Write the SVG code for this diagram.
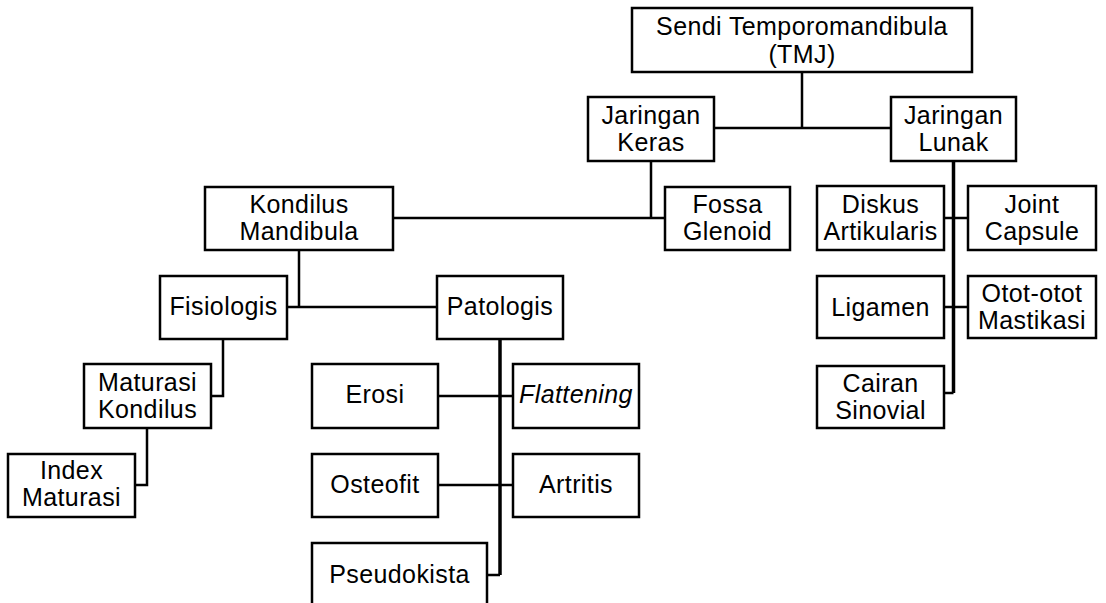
<svg xmlns="http://www.w3.org/2000/svg" width="1106" height="603" viewBox="0 0 1106 603">
<style>
rect{fill:#fff;stroke:#000;stroke-width:2.5}
text{font-family:"Liberation Sans",Arial,sans-serif;font-size:25px;letter-spacing:0.4px;text-anchor:middle;fill:#000}
.c{fill:none;stroke:#000;stroke-width:2.5}
.t{fill:none;stroke:#000;stroke-width:3.5}
.i{font-style:italic}
</style>
<rect x="0" y="0" width="1106" height="603" style="stroke:none"/>
<g id="connectors">
<path class="c" d="M802,72V128M714,128H891"/>
<path class="c" d="M651,161V218M393,218H665"/>
<path class="t" d="M953.5,161V393"/>
<path class="c" d="M953.5,393H944M944,218H968M944,307H968"/>
<path class="c" d="M299,250V307M287,307H437"/>
<path class="c" d="M223,339V396H211"/>
<path class="c" d="M147,428V485H135"/>
<path class="t" d="M500,339V575"/>
<path class="c" d="M500,575H487M438,396H513M438,485H513"/>
</g>
<g id="tmj"><rect x="632" y="8" width="340" height="64"/><text x="802" y="35">Sendi Temporomandibula</text><text x="802" y="63">(TMJ)</text></g>
<g id="keras"><rect x="588" y="97" width="126" height="64"/><text x="651" y="124">Jaringan</text><text x="651" y="151">Keras</text></g>
<g id="lunak"><rect x="891" y="97" width="125" height="64"/><text x="953.5" y="124">Jaringan</text><text x="953.5" y="151">Lunak</text></g>
<g id="kondilus"><rect x="205" y="187" width="188" height="63"/><text x="299" y="213">Kondilus</text><text x="299" y="240">Mandibula</text></g>
<g id="fossa"><rect x="665" y="187" width="125" height="63"/><text x="727.5" y="213">Fossa</text><text x="727.5" y="240">Glenoid</text></g>
<g id="diskus"><rect x="817" y="186" width="127" height="64"/><text x="880.5" y="213">Diskus</text><text x="880.5" y="240">Artikularis</text></g>
<g id="joint"><rect x="968" y="186" width="128" height="64"/><text x="1032" y="213">Joint</text><text x="1032" y="240">Capsule</text></g>
<g id="ligamen"><rect x="817" y="276" width="127" height="62"/><text x="880.5" y="316">Ligamen</text></g>
<g id="otot"><rect x="968" y="276" width="128" height="62"/><text x="1032" y="302">Otot-otot</text><text x="1032" y="329">Mastikasi</text></g>
<g id="cairan"><rect x="817" y="366" width="127" height="62"/><text x="880.5" y="392">Cairan</text><text x="880.5" y="419">Sinovial</text></g>
<g id="fisiologis"><rect x="160" y="276" width="127" height="63"/><text x="223.5" y="315">Fisiologis</text></g>
<g id="patologis"><rect x="437" y="276" width="126" height="63"/><text x="500" y="315">Patologis</text></g>
<g id="maturasi"><rect x="84" y="364" width="127" height="64"/><text x="147.5" y="391">Maturasi</text><text x="147.5" y="418">Kondilus</text></g>
<g id="index"><rect x="8" y="454" width="127" height="63"/><text x="71.5" y="479">Index</text><text x="71.5" y="506">Maturasi</text></g>
<g id="erosi"><rect x="312" y="364" width="126" height="64"/><text x="375" y="403">Erosi</text></g>
<g id="flattening"><rect x="513" y="364" width="126" height="64"/><text class="i" x="576" y="403">Flattening</text></g>
<g id="osteofit"><rect x="312" y="454" width="126" height="63"/><text x="375" y="493">Osteofit</text></g>
<g id="artritis"><rect x="513" y="454" width="126" height="63"/><text x="576" y="493">Artritis</text></g>
<g id="pseudokista"><rect x="312" y="543" width="175" height="63"/><text x="399.5" y="583">Pseudokista</text></g>
</svg>
